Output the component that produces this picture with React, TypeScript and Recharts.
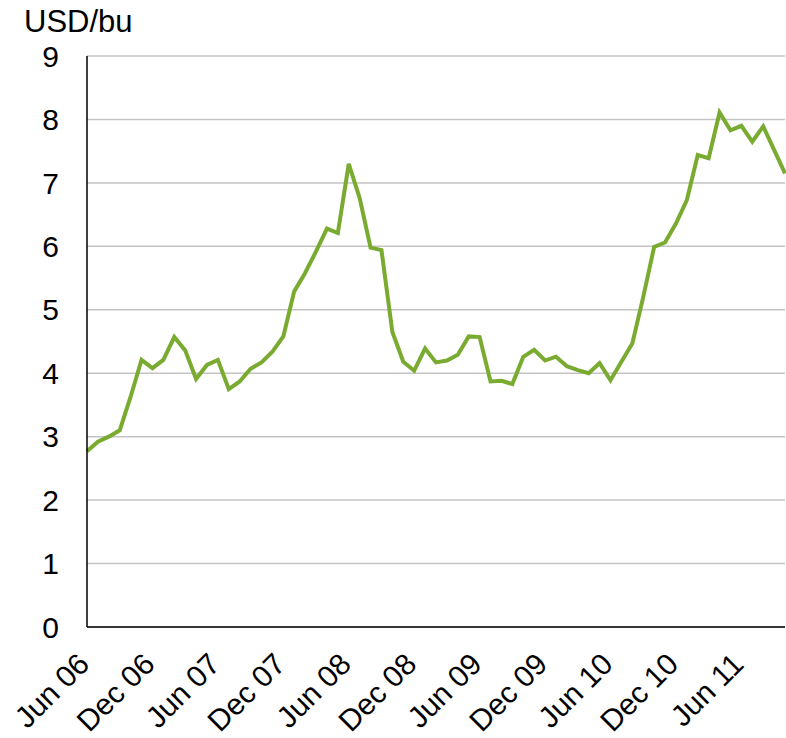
import React from 'react';
import { LineChart, Line, XAxis, YAxis, CartesianGrid } from 'recharts';

// Monthly labels, Jun 06 to Oct 11
const MONTHS = [
  'Jun 06', 'Jul 06', 'Aug 06', 'Sep 06', 'Oct 06', 'Nov 06', 'Dec 06',
  'Jan 07', 'Feb 07', 'Mar 07', 'Apr 07', 'May 07', 'Jun 07', 'Jul 07', 'Aug 07', 'Sep 07', 'Oct 07', 'Nov 07', 'Dec 07',
  'Jan 08', 'Feb 08', 'Mar 08', 'Apr 08', 'May 08', 'Jun 08', 'Jul 08', 'Aug 08', 'Sep 08', 'Oct 08', 'Nov 08', 'Dec 08',
  'Jan 09', 'Feb 09', 'Mar 09', 'Apr 09', 'May 09', 'Jun 09', 'Jul 09', 'Aug 09', 'Sep 09', 'Oct 09', 'Nov 09', 'Dec 09',
  'Jan 10', 'Feb 10', 'Mar 10', 'Apr 10', 'May 10', 'Jun 10', 'Jul 10', 'Aug 10', 'Sep 10', 'Oct 10', 'Nov 10', 'Dec 10',
  'Jan 11', 'Feb 11', 'Mar 11', 'Apr 11', 'May 11', 'Jun 11', 'Jul 11', 'Aug 11', 'Sep 11', 'Oct 11',
];

// Price in USD per bushel
const PRICES = [
  2.77, 2.92, 3.0, 3.1, 3.63, 4.21, 4.08,
  4.21, 4.57, 4.36, 3.91, 4.13, 4.21, 3.75, 3.87, 4.07, 4.17, 4.34, 4.58,
  5.29, 5.58, 5.92, 6.28, 6.21, 7.3, 6.76, 5.98, 5.94, 4.65, 4.18, 4.04,
  4.39, 4.17, 4.2, 4.29, 4.58, 4.57, 3.87, 3.88, 3.83, 4.26, 4.37, 4.2,
  4.26, 4.11, 4.05, 4.0, 4.16, 3.89, 4.18, 4.47, 5.2, 5.99, 6.06, 6.36,
  6.73, 7.44, 7.39, 8.11, 7.83, 7.9, 7.65, 7.89, 7.52, 7.15,
];

const Y_TICKS = [0, 1, 2, 3, 4, 5, 6, 7, 8, 9];

const data = MONTHS.map((month, i) => ({ month, price: PRICES[i] }));

const FONT = 'Liberation Sans, Arial, sans-serif';

const XTick = (props: any) => {
  const { x, y, payload } = props;
  const ax = x + 4;
  const ay = y + 37;
  return (
    <text
      x={ax}
      y={ay}
      transform={`rotate(-45, ${ax}, ${ay})`}
      textAnchor="end"
      fontSize={30}
      fontFamily={FONT}
      fill="#000"
    >
      {payload.value}
    </text>
  );
};

export default function App() {
  return (
    <div style={{ position: 'absolute', left: 0, top: 0, width: 786, height: 738, background: '#fff' }}>
      <div
        style={{
          position: 'absolute',
          left: 24,
          top: 6,
          fontSize: 31,
          lineHeight: '31px',
          fontFamily: FONT,
          color: '#000',
        }}
      >
        USD/bu
      </div>
      <LineChart
        width={786}
        height={738}
        data={data}
        margin={{ top: 56, right: 1, bottom: 0, left: 0 }}
      >
        <CartesianGrid vertical={false} stroke="#c4c4c4" strokeWidth={1.5} />
        <XAxis
          dataKey="month"
          interval={5}
          height={111}
          tickLine={false}
          tickSize={0}
          tick={<XTick />}
          axisLine={{ stroke: '#000', strokeWidth: 1.5 }}
        />
        <YAxis
          domain={[0, 9]}
          ticks={Y_TICKS}
          width={87}
          tickLine={false}
          tickSize={0}
          tickMargin={28}
          tick={{ fontSize: 30, fill: '#000', fontFamily: FONT }}
          axisLine={{ stroke: '#000', strokeWidth: 1.5 }}
        />
        <Line
          type="linear"
          dataKey="price"
          stroke="#7AAB31"
          strokeWidth={4}
          dot={false}
          isAnimationActive={false}
        />
      </LineChart>
    </div>
  );
}
